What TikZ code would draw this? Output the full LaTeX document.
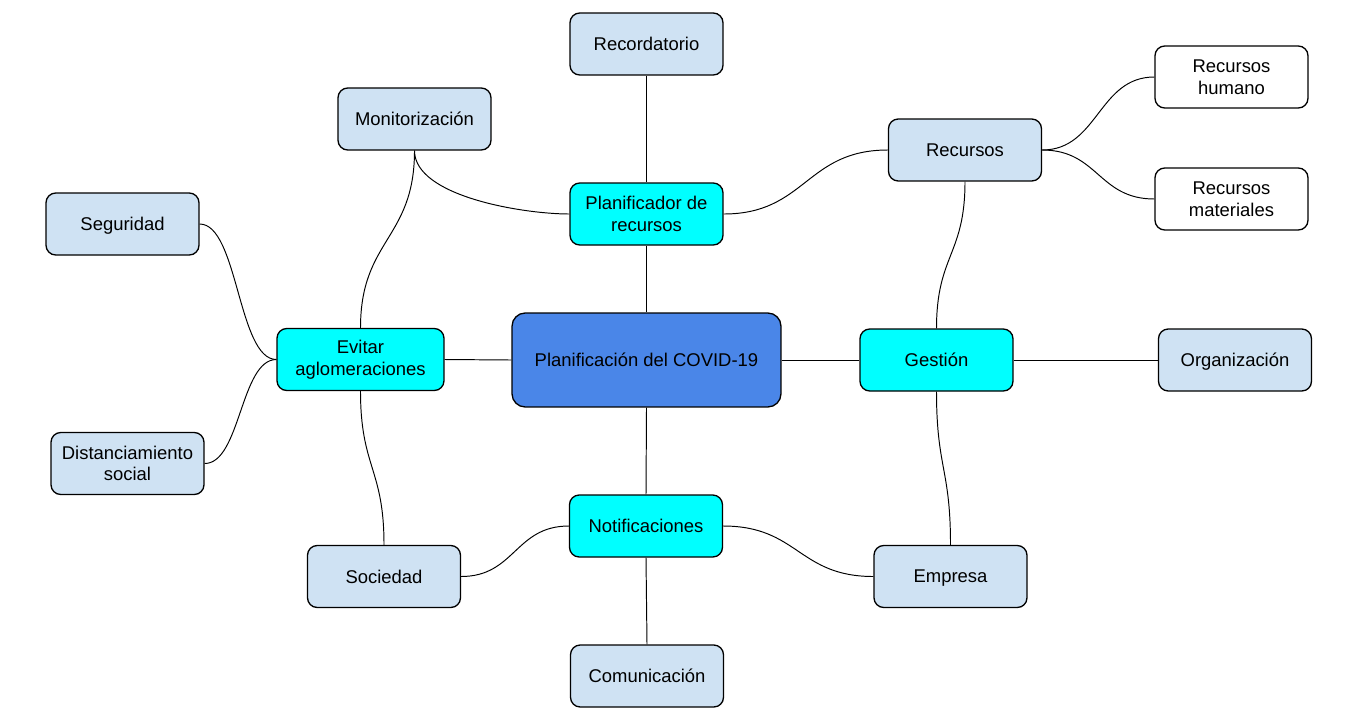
\documentclass[tikz,border=0pt]{standalone}
\usepackage{fontspec}
\setmainfont{Liberation Sans}
\usetikzlibrary{calc}
\definecolor{celeste}{HTML}{CFE2F3}
\definecolor{cian}{HTML}{00FFFF}
\definecolor{azul}{HTML}{4A86E8}
\tikzset{
  caja/.style={draw, line width=0.75pt, rounded corners=5.5pt, fill=celeste,
    align=center, minimum width=3.06cm, minimum height=1.24cm, inner sep=2pt,
    font=\fontsize{10.5}{12.3}\selectfont},
  tema/.style={caja, fill=cian},
  hoja/.style={caja, fill=white},
  plano/.style={text depth=0pt},
  hlink/.style={to path={let \p1=(\tikztostart), \p2=(\tikztotarget) in
    .. controls ({0.5*\x1+0.5*\x2},\y1) and ({0.5*\x1+0.5*\x2},\y2) .. (\tikztotarget)}},
  vlink/.style={to path={let \p1=(\tikztostart), \p2=(\tikztotarget) in
    .. controls (\x1,{0.5*\y1+0.5*\y2}) and (\x2,{0.5*\y1+0.5*\y2}) .. (\tikztotarget)}}
}
\begin{document}
\begin{tikzpicture}[x=0.02cm,y=-0.02cm,line width=0.55pt]
	\useasboundingbox (0,0) rectangle (1359,714);
	\node[caja, fill=azul, minimum width=5.38cm, minimum height=1.88cm, rounded corners=7.5pt] (core) at (646.5,360) {Planificación del COVID-19};
	\node[caja] (recor) at (646.5,44) {Recordatorio};
	\node[caja] (monit) at (414.5,119) {Monitorización};
	\node[tema] (plani) at (646.5,214) {Planificador de\\recursos};
	\node[caja] (recur) at (965,150) {Recursos};
	\node[hoja] (rhum) at (1231.5,77) {Recursos\\humano};
	\node[hoja] (rmat) at (1231.5,199) {Recursos\\materiales};
	\node[caja, plano] (segur) at (122.5,224) {Seguridad};
	\node[tema, minimum width=3.34cm] (evitar) at (360.5,359.5) {Evitar\\aglomeraciones};
	\node[caja] (dist) at (127.5,463.5) {Distanciamiento\\social};
	\node[tema] (gest) at (936.5,360) {Gestión};
	\node[caja, plano] (organ) at (1235,360) {Organización};
	\node[tema] (notif) at (646,526) {Notificaciones};
	\node[caja] (socied) at (384,576.5) {Sociedad};
	\node[caja, plano] (empresa) at (950.5,576.5) {Empresa};
	\node[caja] (comun) at (647,676) {Comunicación};

	\draw (recor.south) -- (plani.north);
	\draw (plani.south) -- (core.north);
	\draw (core.south) -- (notif.north);
	\draw (notif.south) -- (comun.north);
	\draw (evitar.east) -- (core.west);
	\draw (core.east) -- (gest.west);
	\draw (gest.east) to[hlink] (organ.west);
	\draw (segur.east) to[hlink] (evitar.west);
	\draw (dist.east) to[hlink] (evitar.west);
	\draw (plani.east) to[hlink] (recur.west);
	\draw (recur.east) to[hlink] (rhum.west);
	\draw (recur.east) to[hlink] (rmat.west);
	\draw (notif.west) to[hlink] (socied.east);
	\draw (notif.east) to[hlink] (empresa.west);
	\draw (monit.south) to[vlink] (evitar.north);
	\draw (recur.south) to[vlink] (gest.north);
	\draw (gest.south) to[vlink] (empresa.north);
	\draw (evitar.south) to[vlink] (socied.north);
	\draw (monit.south) to[out=-90,in=180,looseness=0.7] (plani.west);
\end{tikzpicture}
\end{document}
